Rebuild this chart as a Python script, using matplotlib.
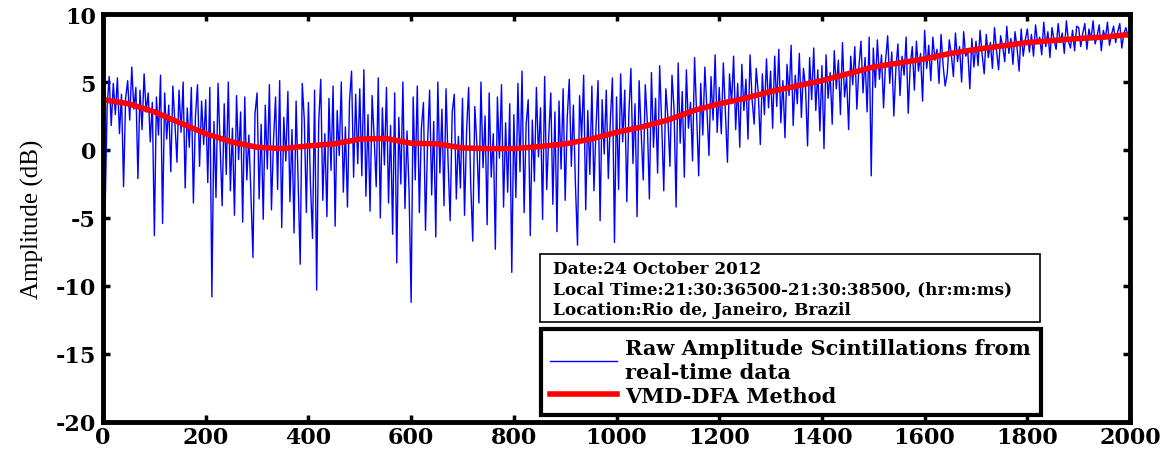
import numpy as np
import matplotlib
matplotlib.use("Agg")
import matplotlib.pyplot as plt
from matplotlib.patches import Rectangle

plt.rcParams['axes.unicode_minus'] = False

# raw scintillation amplitude (dB), one value every 4 samples
raw_step = 4
raw_amp = [
    4.8, -4.6, 3.2, 5.4, 1.8, 4.9, 2.6, 5.3, 1.2, 4.1, -2.7, 3.8, 5.1, 2.2, 6.1, 3.0, 4.6, -2.1, 4.4, 1.5, 5.6, 2.8, 4.2, 0.6, 3.5,
    -6.3, 3.9, 1.1, 5.5, -5.4, 4.2, 0.8, 3.3, -1.6, 4.7, 2.0, -0.9, 4.4, 1.3, 5.0, -2.8, 3.1, 0.2, 4.6, -3.9, 2.5, 4.8, -1.2, 3.6, 0.4,
    3.7, -2.4, 4.6, -10.8, 2.1, -3.5, 4.9, 0.3, -4.1, 3.4, -1.8, 5.0, -3.0, 1.6, -4.8, 4.0, -0.7, 2.8, -5.3, 3.9, -2.2, 1.1, -3.2, -7.9, 2.7,
    4.2, -3.6, 1.9, -5.1, 3.3, -1.4, 4.8, -4.4, 0.7, 3.9, -2.9, 5.1, -5.7, 2.4, -0.8, 4.3, -3.8, 1.5, -6.1, 3.6, -2.3, -8.4, 4.9, 2.2, -4.6,
    3.5, -2.6, -6.5, 4.4, -10.3, 2.0, 5.2, -3.7, 1.2, -4.9, 3.8, -1.5, 4.7, -5.6, 2.9, -0.4, 5.0, -3.1, 1.7, -4.2, 3.6, 5.8, -2.0, 4.1, -1.0,
    4.5, -1.9, 5.9, -3.4, 2.6, -4.5, 4.0, 0.9, -2.7, 5.3, -5.0, 3.1, -1.1, 4.6, -3.9, 1.8, -6.2, 4.2, -8.3, 2.4, -2.5, 5.0, -4.3, 1.4, -3.0,
    -11.2, 3.9, -2.2, 4.7, -4.6, 1.6, 3.5, -5.9, 0.5, 4.4, -3.3, 2.1, -6.4, 5.0, -1.7, 3.0, -4.1, 4.5, -0.9, -5.2, 2.8, 4.1, -3.6, 1.0, -2.8,
    3.8, -4.8, 1.4, 4.6, -2.5, -6.7, 3.2, 0.4, -3.9, 5.0, -1.3, 2.5, -5.5, 4.2, -2.0, 1.2, -7.3, 3.9, -0.6, 4.8, -4.2, 2.0, -3.1, 3.4, -9.0,
    2.6, -3.5, 4.9, -1.6, 5.8, -4.6, 1.9, 3.7, -6.3, 2.2, -2.3, 4.6, -0.5, 3.1, -5.1, 5.4, -2.9, 1.0, 4.2, -4.0, 2.8, -6.0, 3.6, -1.4, 4.5,
    -3.7, 2.4, 5.2, -1.2, 3.3, -2.6, -7.0, 4.0, 0.8, 5.5, -4.4, 2.9, -1.8, 4.7, -3.0, 1.6, 5.1, -5.2, 3.7, -0.3, 4.4, -2.1, 2.2, 5.3, -6.8,
    3.9, -2.9, 5.6, 0.6, 4.4, -3.8, 2.7, 6.0, -1.0, 3.4, -4.9, 5.1, 1.3, -2.2, 4.8, 2.0, -3.6, 5.7, 0.2, 3.8, -1.7, 6.2, 1.9, -3.0, 4.5,
    2.4, -1.2, 5.5, 3.0, -4.2, 6.4, 0.5, 4.3, -2.0, 5.9, 1.6, 3.5, -0.8, 6.8, 2.6, -1.9, 4.9, 1.1, 6.1, 3.0, -0.4, 5.4, 2.2, 7.0, 1.3,
    4.6, 1.2, 6.4, 2.7, -0.9, 5.6, 3.4, 6.9, 1.5, 4.9, 0.2, 6.3, 2.9, 5.2, 0.8, 7.0, 3.7, 1.9, 6.0, 4.2, 0.4, 5.6, 2.6, 6.7, 3.1,
    5.8, 1.6, 6.9, 3.2, 7.4, 2.0, 5.1, 0.9, 6.3, 4.0, 7.7, 1.8, 5.5, 3.4, 7.1, 2.4, 6.0, 4.6, 0.3, 6.8, 3.7, 7.5, 2.9, 5.9, 1.4,
    6.2, 0.1, 7.0, 3.8, 5.7, 1.9, 7.3, 4.5, 6.6, 2.6, 7.9, 3.9, 5.4, 1.5, 6.9, 4.8, 7.6, 3.0, 6.1, 8.0, 4.2, 6.8, 2.8, 8.3, -1.9,
    7.5, 4.6, 8.1, 5.2, 7.0, 3.1, 6.6, 8.4, 4.9, 7.2, 2.5, 6.0, 7.8, 4.0, 6.9, 5.5, 8.3, 2.7, 6.3, 7.6, 4.4, 8.0, 5.8, 7.1, 3.6,
    8.8, 6.0, 7.7, 5.1, 8.3, 6.6, 7.4, 4.9, 8.5, 6.2, 4.7, 5.6, 8.1, 7.0, 5.4, 8.6, 6.5, 7.6, 5.0, 8.7, 6.9, 7.3, 4.5, 8.2, 6.1,
    8.0, 6.2, 8.8, 7.0, 5.6, 8.5, 6.8, 7.9, 6.0, 9.0, 7.3, 5.9, 8.4, 7.6, 6.5, 9.1, 7.1, 8.2, 6.3, 8.7, 7.5, 5.8, 8.9, 6.9, 8.1,
    8.9, 7.2, 8.5, 6.9, 9.2, 7.8, 8.3, 7.0, 9.4, 7.6, 8.7, 6.8, 9.0, 8.1, 7.4, 9.3, 7.9, 8.6, 7.1, 9.5, 8.0, 7.5, 8.8, 7.3, 9.1,
    9.0, 7.6, 8.6, 9.3, 7.4, 8.9, 8.1, 9.5, 7.8, 8.4, 9.2, 7.3, 8.8, 8.2, 9.4, 7.7, 8.5, 9.1, 7.9, 8.7, 9.3, 7.5, 8.6, 9.0, 8.3,
]

# VMD-DFA trend, every 50 samples
trend_x = list(range(0, 2001, 50))
trend_amp = [3.7, 3.4, 2.8, 2.0, 1.2, 0.6, 0.2, 0.1, 0.3, 0.45,
             0.8, 0.85, 0.5, 0.45, 0.15, 0.1, 0.1, 0.25, 0.45, 0.8,
             1.3, 1.7, 2.2, 2.9, 3.4, 3.8, 4.3, 4.7, 5.1, 5.6,
             6.1, 6.4, 6.7, 7.1, 7.4, 7.65, 7.9, 8.05, 8.2, 8.3, 8.5]

x_ticks = list(range(0, 2001, 200))
y_ticks = [-20, -15, -10, -5, 0, 5, 10]

info_lines = ["Date:24 October 2012",
              "Local Time:21:30:36500-21:30:38500, (hr:m:ms)",
              "Location:Rio de, Janeiro, Brazil"]
raw_label = "Raw Amplitude Scintillations from\nreal-time data"
trend_label = "VMD-DFA Method"

raw_x = np.arange(len(raw_amp)) * raw_step

fig = plt.figure(figsize=(11.68, 4.52), dpi=100)
ax = fig.add_axes([0.0882, 0.0642, 0.8793, 0.9026])

l1, = ax.plot(raw_x, raw_amp, color='#0000ff', lw=1.0)
l2, = ax.plot(trend_x, trend_amp, color='#ff0000', lw=4)

ax.set_xlim(0, 2000)
ax.set_ylim(-20, 10)
ax.set_xticks(x_ticks)
ax.set_yticks(y_ticks)

tick_font = dict(family='DejaVu Serif', weight='bold', size=16)
ax.set_xticklabels([str(v) for v in x_ticks], fontdict=tick_font)
ax.set_yticklabels([str(v) for v in y_ticks], fontdict=tick_font)
ax.tick_params(direction='in', length=5, width=2.5, top=True, right=True)
ax.tick_params(axis='x', pad=3)
ax.tick_params(axis='y', pad=5)
for s in ax.spines.values():
    s.set_linewidth(3.5)

ax.set_ylabel("Amplitude (dB)", family='Liberation Serif', size=18)
ax.yaxis.set_label_coords(-0.057, 0.5)

# info box
ax.add_patch(Rectangle((0.4255, 0.2451), 0.4869, 0.1667, transform=ax.transAxes,
                       facecolor='white', edgecolor='black', lw=1.2, zorder=5))
ax.text(0.4382, 0.398, "\n".join(info_lines), transform=ax.transAxes,
        ha='left', va='top', family='DejaVu Serif', weight='bold', size=12.2,
        linespacing=1.3, zorder=6)

leg = ax.legend([l1, l2], [raw_label, trend_label], loc='upper left',
                bbox_to_anchor=(0.4265, 0.228), borderaxespad=0,
                prop=dict(family='DejaVu Serif', weight='bold', size=15),
                fancybox=False, framealpha=1, edgecolor='black',
                handlelength=3.2, handletextpad=0.4, labelspacing=0.2,
                borderpad=0.45)
leg.get_frame().set_linewidth(3)
leg.set_zorder(6)

fig.savefig("out.png", dpi=100)
